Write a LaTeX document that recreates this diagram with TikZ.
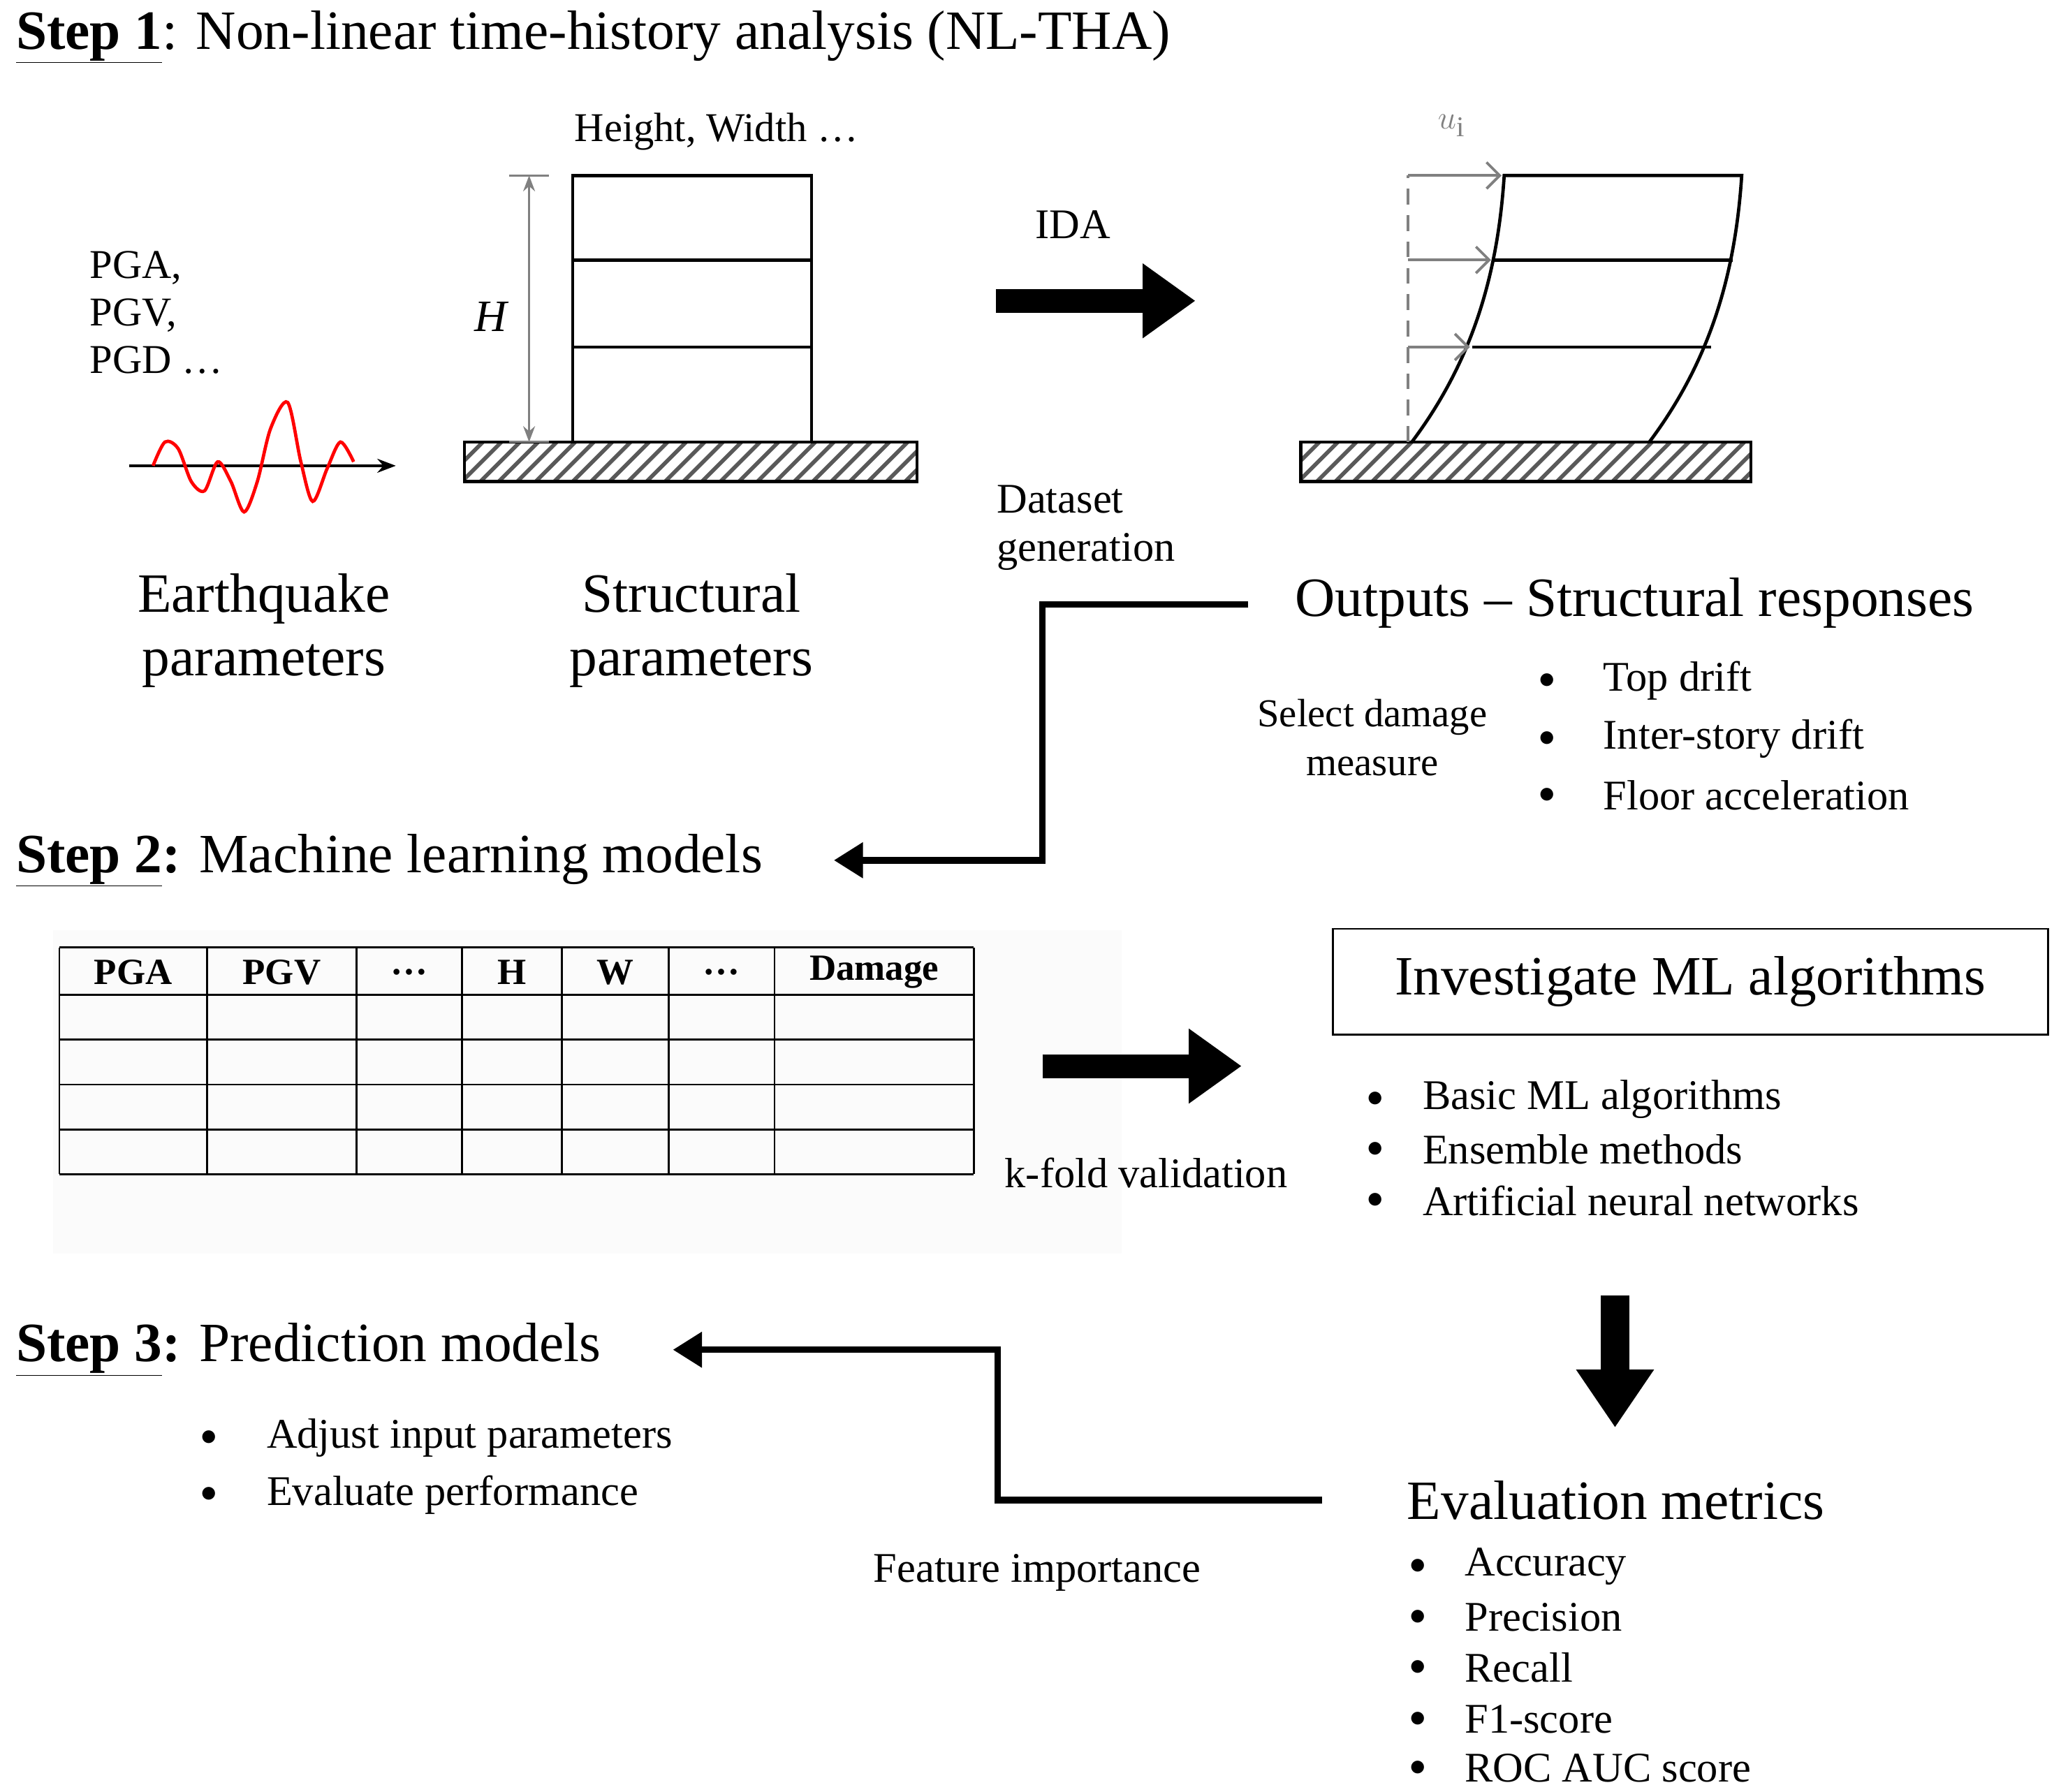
\documentclass[tikz,border=0pt]{standalone}
\usepackage{fontspec}
\setmainfont{Liberation Serif}
\usetikzlibrary{arrows.meta}
\begin{document}
\begin{tikzpicture}[x=1pt,y=-1pt,
  big/.style={font=\fontsize{42}{48}\selectfont},
  mid/.style={font=\fontsize{32}{37}\selectfont},
  sm/.style={font=\fontsize{31}{36}\selectfont},
  steptitle/.style={font=\fontsize{42}{48}\selectfont,anchor=west,inner sep=0},
  thick arrow/.style={line width=5pt,-{Triangle[length=22pt,width=26pt]}},
  fat/.style={line width=18pt,-{Triangle[length=40pt,width=54pt]}},
  bul/.style={mid,anchor=west,inner sep=0}]
\useasboundingbox (0,0) rectangle (1562,1358);
\newcommand\gndrect[2]{%
  \begin{scope}
  \clip (#1,335) rectangle (#2,365);
  \foreach \k in {0,14,...,400} \draw[gray!70!black,line width=3pt] ({#1+\k-30},365) -- ({#1+\k},335);
  \end{scope}
  \draw[line width=2.5pt] (#1,335) rectangle (#2,365);}
% Step 1
\node[steptitle] (s1) at (12,28) {\underline{\textbf{Step 1}}: Non-linear time-history analysis (NL-THA)};
\node[sm,anchor=west] (hw) at (432,100) {Height, Width \dots};
% building 1
\draw[line width=2.5pt] (434,335) -- (434,133) -- (615,133) -- (615,335);
\draw[line width=2.5pt] (434,197) -- (615,197) (434,263) -- (615,263);
\gndrect{352}{695}
\coordinate (ht) at (401,133); \coordinate (hb) at (401,335);
\draw[gray,line width=1.5pt,{Stealth[length=12pt]}-{Stealth[length=12pt]}] (ht) -- (hb);
\draw[gray,line width=1.5pt] (386,133)--(416,133) (386,335)--(416,335);
\node[font=\fontsize{34}{40}\selectfont\itshape] (H) at (372,240) {H};
% earthquake
\node[sm,anchor=north west,align=left,inner sep=0] (pg) at (68,190) {PGA,\\PGV,\\PGD \dots};
\coordinate (ax0) at (98,353); \coordinate (ax1) at (300,353);
\draw[line width=2.5pt,-{Stealth[length=14pt]}] (ax0) -- (ax1);
\draw[red,line width=2.5pt,smooth] plot coordinates {(116,353) (125,335) (135,340) (145,365) (155,372) (165,350) (175,365) (185,388) (195,365) (205,325) (218,305) (228,350) (237,380) (248,355) (258,335) (268,350)};
\node[big,align=center] (eq) at (200,478) {Earthquake\\parameters};
\node[big,align=center] (st) at (524,478) {Structural\\parameters};
% IDA
\node[mid] (ida) at (813,170) {IDA};
\coordinate (i0) at (755,228); \coordinate (i1) at (906,228);
\draw[fat] (i0) -- (i1);
% building 2
\draw[line width=2.5pt] (1070,335) .. controls (1115,275) and (1135,210) .. (1140,133) -- (1320,133) .. controls (1315,210) and (1295,275) .. (1250,335);
\draw[line width=2.5pt] (1132,197) -- (1313,197) (1116,263) -- (1297,263);
\gndrect{986}{1327}
\draw[gray,line width=2pt,dash pattern=on 12pt off 8pt] (1067,335) -- (1067,133);
\foreach \yy/\xx in {133/1138,197/1130,263/1114}
  \draw[gray,line width=2pt,-{Straight Barb[length=10pt]}] (1067,\yy) -- (\xx,\yy);
\node[sm,text=gray] (ui) at (1100,95) {$u_{\mathrm i}$};
\node[mid,anchor=west,align=left] (dg) at (752,400) {Dataset\\generation};
\node[big,anchor=west] (out) at (978,457) {Outputs -- Structural responses};
\node[font=\fontsize{30}{37}\selectfont,align=center] (sdm) at (1040,559) {Select damage\\measure};
\foreach \t/\yy in {Top drift/516,Inter-story drift/560,Floor acceleration/603}{
  \node[bul] at (1166,\yy) {$\bullet$}; \node[bul] at (1215,\yy) {\t};}
% connector 1
\coordinate (c1) at (946,458); \coordinate (c2) at (632,652);
\draw[thick arrow] (c1) -- (790,458) -- (790,652) -- (c2);
% Step 2
\node[steptitle] (s2) at (12,652) {\underline{\textbf{Step 2}}\textbf{:} Machine learning models};
\fill[gray!3] (40,705) rectangle (850,950);
\foreach \xx in {45,157,270,350,426,507,587,738} \draw[line width=1.5pt] (\xx,718) -- (\xx,890);
\foreach \yy in {718,754,788,822,856,890} \draw[line width=1.5pt] (45,\yy) -- (738,\yy);
\foreach \t/\xa/\xb in {PGA/45/157,PGV/157/270,\dots/270/350,H/350/426,W/426/507,\dots/507/587,Damage/587/738}
  \node[font=\fontsize{28}{32}\selectfont\bfseries] at ({(\xa+\xb)/2},737) {\t};
\coordinate (k0) at (790,808); \coordinate (k1) at (941,808);
\draw[fat] (k0) -- (k1);
\node[mid,anchor=west] (kf) at (758,889) {k-fold validation};
\node[draw,line width=1.5pt,minimum width=542pt,minimum height=80pt,font=\fontsize{42}{48}\selectfont] (ml) at (1281,744) {Investigate ML algorithms};
\foreach \t/\yy in {Basic ML algorithms/833,Ensemble methods/871,Artificial neural networks/910}{
  \node[bul] at (1036,\yy) {$\bullet$}; \node[bul] at (1078,\yy) {\t};}
\coordinate (d0) at (1224,982); \coordinate (d1) at (1224,1082);
\draw[line width=22pt,-{Triangle[length=44pt,width=56pt]}] (d0) -- (d1);
% Step 3
\node[steptitle] (s3) at (12,1023) {\underline{\textbf{Step 3}}\textbf{:} Prediction models};
\foreach \t/\yy in {Adjust input parameters/1090,Evaluate performance/1133}{
  \node[bul] at (152,\yy) {$\bullet$}; \node[bul] at (202,\yy) {\t};}
\coordinate (e1) at (1002,1137); \coordinate (e2) at (510,1023);
\draw[thick arrow] (e1) -- (756,1137) -- (756,1023) -- (e2);
\node[mid] (fi) at (786,1192) {Feature importance};
\node[big,anchor=west] (em) at (1063,1137) {Evaluation metrics};
\foreach \t/\yy in {Accuracy/1187,Precision/1226,Recall/1264,F1-score/1303,ROC AUC score/1340}{
  \node[bul] at (1068,\yy) {$\bullet$}; \node[bul] at (1110,\yy) {\t};}
\end{tikzpicture}
\end{document}
